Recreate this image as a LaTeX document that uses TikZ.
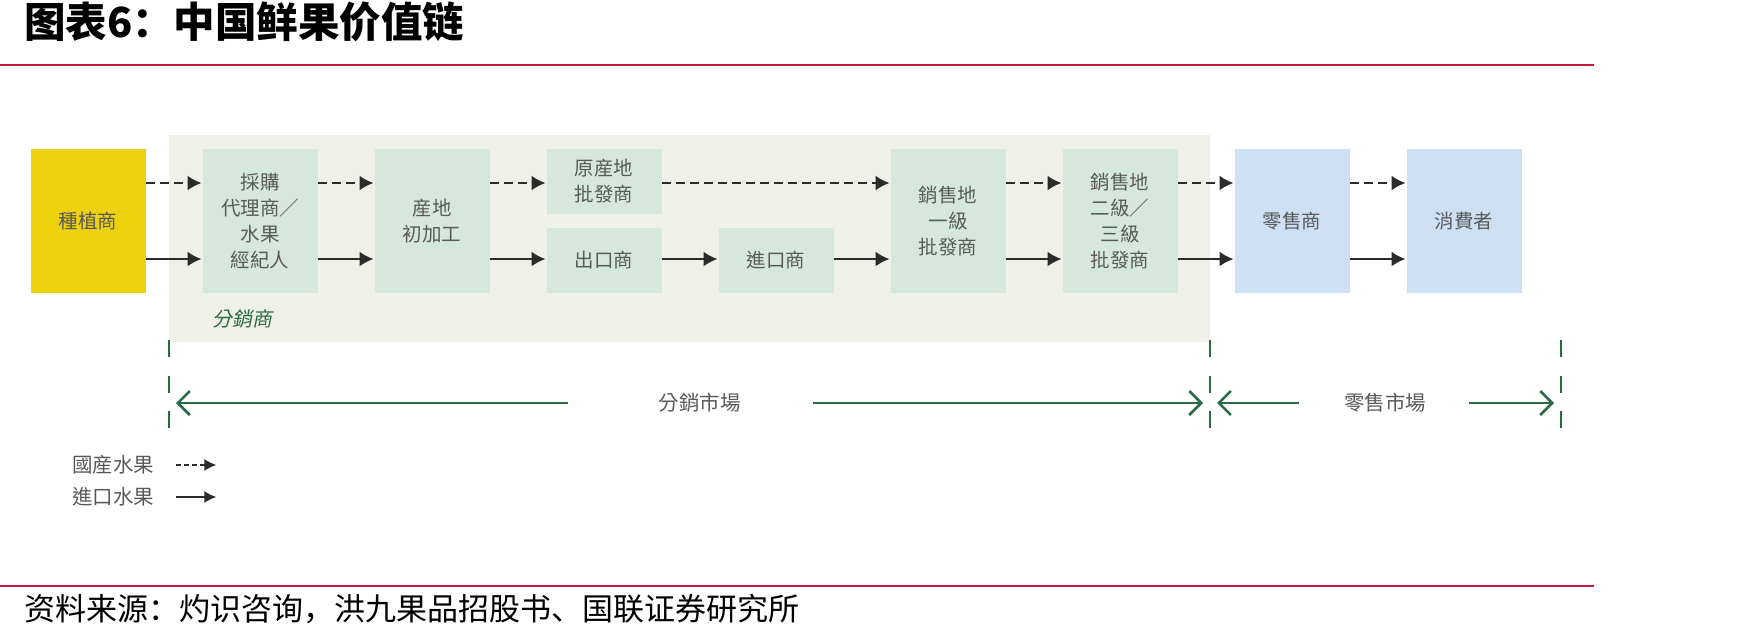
\documentclass[tikz,border=0pt]{standalone}
\usepackage{fontspec}
\usetikzlibrary{arrows.meta,positioning,calc}
\newfontfamily\tcfont{Noto Sans CJK TC}
\newfontfamily\tcslant{Noto Sans CJK TC}[FakeSlant=0.2]
\newfontfamily\scfont{Noto Sans CJK SC}
\definecolor{Rule}{HTML}{C8173F}
\definecolor{Grower}{HTML}{EDD20B}
\definecolor{Panel}{HTML}{EFF0E7}
\definecolor{Trader}{HTML}{D6E8DD}
\definecolor{Retail}{HTML}{CDE0F4}
\definecolor{Ink}{HTML}{595959}
\definecolor{Dark}{HTML}{2B2B2B}
\definecolor{Market}{HTML}{2A6B46}

\begin{document}
\begin{tikzpicture}[
  x=1pt,y=1pt,
  node distance=57pt,
  cell/.style={minimum width=115pt,minimum height=144pt,inner sep=0pt,outer sep=0pt,align=center,text=Ink,font=\tcfont\fontsize{19.5}{26}\selectfont},
  grower/.style={cell,fill=Grower},
  trader/.style={cell,fill=Trader},
  halfcell/.style={trader,minimum height=65pt},
  retail/.style={cell,fill=Retail},
  homearr/.style={-{Latex[length=14pt,width=15pt]},line width=2pt,draw=Dark,dash pattern=on 9pt off 5pt,shorten >=1pt},
  imparr/.style={-{Latex[length=14pt,width=15pt]},line width=2pt,draw=Dark,shorten >=1pt},
  mktarrow/.style={-{Straight Barb[length=12pt,width=24pt]},line width=2.5pt,draw=Market,shorten >=7pt},
  fence/.style={line width=2.5pt,draw=Market,dash pattern=on 17pt off 18.5pt},
  tag/.style={inner sep=0pt,text=Ink,font=\tcfont\fontsize{20.5}{24}\selectfont},
  keyhome/.style={-{Latex[length=12pt,width=12pt]},line width=1.8pt,draw=Dark,dash pattern=on 5pt off 3pt},
  keyimp/.style={-{Latex[length=12pt,width=12pt]},line width=1.8pt,draw=Dark}
]
\useasboundingbox (0,0) rectangle (1748,-638);

% heading
\node[anchor=west,inner sep=0pt,font=\scfont\bfseries\fontsize{41.5}{44}\selectfont] (title) at (24,-22) {图表6：中国鲜果价值链};
\draw[line width=2.5pt,Rule] (0,-65) -- (1594,-65);

% distributor panel
\fill[Panel] (169,-135) rectangle (1210,-342);
\node[font=\tcslant\fontsize{20}{24}\selectfont,text=Market] (distlabel) at (242,-319) {分銷商};

% chain
\node[grower] (grow) at (88,-221) {種植商};
\node[trader,right=of grow] (agent) {採購\\代理商／\\水果\\經紀人};
\node[trader,right=of agent] (proc) {産地\\初加工};
\node[halfcell,right=of proc.north east,anchor=north west] (orig) {原産地\\批發商};
\node[halfcell,below=14pt of orig] (export) {出口商};
\node[halfcell,right=of export] (imp) {進口商};
\node[trader,anchor=west] (first) at ($(imp.east |- proc.east)+(57,0)$) {銷售地\\一級\\批發商};
\node[trader,right=of first] (second) {銷售地\\二級／\\三級\\批發商};
\node[retail,right=of second] (shop) {零售商};
\node[retail,right=of shop] (buyer) {消費者};

\coordinate (homerow) at (0,-183);
\coordinate (improw) at (0,-259);

% domestic fruit
\draw[homearr] (grow.east |- homerow) -- (agent.west |- homerow);
\draw[homearr] (agent.east |- homerow) -- (proc.west |- homerow);
\draw[homearr] (proc.east |- homerow) -- (orig.west |- homerow);
\draw[homearr] (orig.east |- homerow) -- (first.west |- homerow);
\draw[homearr] (first.east |- homerow) -- (second.west |- homerow);
\draw[homearr] (second.east |- homerow) -- (shop.west |- homerow);
\draw[homearr] (shop.east |- homerow) -- (buyer.west |- homerow);

% imported fruit
\draw[imparr] (grow.east |- improw) -- (agent.west |- improw);
\draw[imparr] (agent.east |- improw) -- (proc.west |- improw);
\draw[imparr] (proc.east |- improw) -- (export.west |- improw);
\draw[imparr] (export.east |- improw) -- (imp.west |- improw);
\draw[imparr] (imp.east |- improw) -- (first.west |- improw);
\draw[imparr] (first.east |- improw) -- (second.west |- improw);
\draw[imparr] (second.east |- improw) -- (shop.west |- improw);
\draw[imparr] (shop.east |- improw) -- (buyer.west |- improw);

% markets
\coordinate (fenceA) at (169,-340);
\coordinate (fenceB) at (1210,-340);
\coordinate (fenceC) at (1561,-340);
\draw[fence] (fenceA) -- ++(0,-92);
\draw[fence] (fenceB) -- ++(0,-92);
\draw[fence] (fenceC) -- ++(0,-92);
\node[tag] (distmkt) at (699.5,-403) {分銷市場};
\node[tag] (retmkt) at (1385,-403) {零售市場};
\draw[mktarrow] ([xshift=-90pt]distmkt.west) -- (fenceA |- distmkt);
\draw[mktarrow] ([xshift=72pt]distmkt.east) -- (fenceB |- distmkt);
\draw[mktarrow] ([xshift=-45pt]retmkt.west) -- (fenceB |- retmkt);
\draw[mktarrow] ([xshift=43pt]retmkt.east) -- (fenceC |- retmkt);

% legend
\node[tag,anchor=west] (homekey) at (72,-465) {國産水果};
\node[tag,anchor=west] (impkey) at (72,-497) {進口水果};
\draw[keyhome] ([xshift=22pt]homekey.east) -- ([xshift=62pt]homekey.east);
\draw[keyimp] ([xshift=22pt]impkey.east) -- ([xshift=62pt]impkey.east);

% source
\draw[line width=2.5pt,Rule] (0,-586) -- (1594,-586);
\node[anchor=west,inner sep=0pt,font=\scfont\fontsize{31}{34}\selectfont] (source) at (24,-609) {资料来源：灼识咨询，洪九果品招股书、国联证券研究所};
\end{tikzpicture}
\end{document}
